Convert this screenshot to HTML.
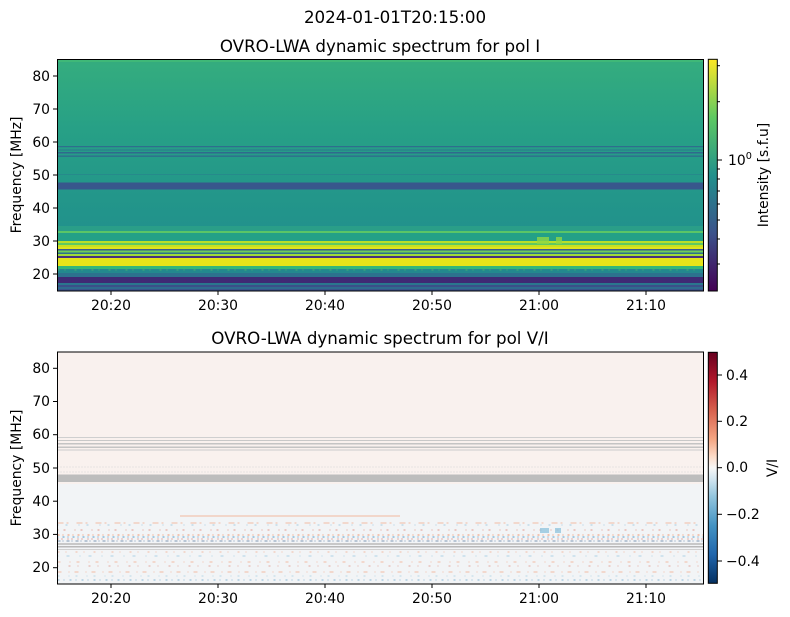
<!DOCTYPE html>
<html><head><meta charset="utf-8"><style>
html,body{margin:0;padding:0;background:#fff;}
svg{display:block;font-family:"DejaVu Sans","Liberation Sans",sans-serif;}
</style></head><body>
<svg width="790" height="617" viewBox="0 0 790 617" xmlns="http://www.w3.org/2000/svg">
<defs>
<linearGradient id="topbg" x1="0" y1="0" x2="0" y2="1">
<stop offset="0" stop-color="#35ad7e"/><stop offset="0.3" stop-color="#27a086"/><stop offset="0.75" stop-color="#21918c"/><stop offset="1" stop-color="#21918c"/>
</linearGradient>
<linearGradient id="viridis" x1="0" y1="1" x2="0" y2="0">
<stop offset="0" stop-color="#440154"/><stop offset="0.25" stop-color="#3b528b"/><stop offset="0.5" stop-color="#21918c"/><stop offset="0.75" stop-color="#5ec962"/><stop offset="1" stop-color="#fde725"/>
</linearGradient>
<linearGradient id="rdbu" x1="0" y1="1" x2="0" y2="0">
<stop offset="0" stop-color="#053061"/><stop offset="0.125" stop-color="#2166ac"/><stop offset="0.25" stop-color="#4393c3"/><stop offset="0.375" stop-color="#92c5de"/><stop offset="0.45" stop-color="#d1e5f0"/><stop offset="0.5" stop-color="#f7f7f7"/><stop offset="0.55" stop-color="#fddbc7"/><stop offset="0.625" stop-color="#f4a582"/><stop offset="0.75" stop-color="#d6604d"/><stop offset="0.875" stop-color="#b2182b"/><stop offset="1" stop-color="#67001f"/>
</linearGradient>
</defs>
<text x="395" y="23" font-size="16.7" text-anchor="middle">2024-01-01T20:15:00</text>

<!-- TOP PLOT -->
<text x="380" y="52" font-size="16.7" text-anchor="middle">OVRO-LWA dynamic spectrum for pol I</text>
<g>
<rect x="57.5" y="59.5" width="646" height="231.5" fill="url(#topbg)"/>
<rect x="57.5" y="60" width="646" height="2" fill="#3fb878"/>
<rect x="57.5" y="146" width="646" height="1.2" fill="#2f6d8e"/>
<rect x="57.5" y="149.5" width="646" height="1" fill="#2a788e"/>
<rect x="57.5" y="152" width="646" height="1.5" fill="#30698e"/>
<rect x="57.5" y="155.5" width="646" height="1.3" fill="#30698e"/>
<rect x="57.5" y="174" width="646" height="0.8" fill="#2a7a8e" opacity="0.6"/>
<rect x="57.5" y="182.5" width="646" height="7" fill="#38578c"/>
<rect x="57.5" y="226" width="646" height="5" fill="#2a9e88"/>
<rect x="57.5" y="231" width="646" height="2" fill="#5ac566"/>
<rect x="57.5" y="233" width="646" height="8" fill="#23a087"/>
<rect x="57.5" y="241" width="646" height="2" fill="#b8de29"/>
<rect x="57.5" y="243" width="646" height="2" fill="#5ec962"/>
<rect x="57.5" y="245" width="646" height="2" fill="#c8e020"/>
<rect x="57.5" y="247" width="646" height="2" fill="#e0e31c"/>
<rect x="57.5" y="249" width="646" height="1.5" fill="#3b5a8b"/>
<rect x="57.5" y="250.5" width="646" height="2" fill="#6ece58"/>
<rect x="57.5" y="252.5" width="646" height="1.5" fill="#2c718e"/>
<rect x="57.5" y="254" width="646" height="2" fill="#a0da39"/>
<rect x="57.5" y="256" width="646" height="2" fill="#46327e"/>
<rect x="57.5" y="258" width="646" height="8" fill="#e7e419"/>
<rect x="57.5" y="266" width="646" height="3" fill="#35b779"/>
<rect x="57.5" y="269" width="646" height="4" fill="#23898e"/>
<rect x="57.5" y="273" width="646" height="4" fill="#2c728e"/>
<rect x="57.5" y="277" width="646" height="6" fill="#3e2a74"/>
<rect x="57.5" y="283" width="646" height="2" fill="#2a768e"/>
<rect x="57.5" y="285" width="646" height="2" fill="#3b4f8a"/>
<rect x="57.5" y="287" width="646" height="2" fill="#2f6b8e"/>
<rect x="57.5" y="289" width="646" height="2" fill="#3b528b"/>
<rect x="537" y="237" width="12" height="7" fill="#8fd744" opacity="0.8"/>
<rect x="556" y="237" width="6" height="7" fill="#8fd744" opacity="0.8"/>
<line x1="57.5" y1="270" x2="703" y2="270" stroke="#5ec962" stroke-width="1" stroke-dasharray="2 5 1 9" opacity="0.6"/>
<line x1="57.5" y1="281" x2="703" y2="281" stroke="#482475" stroke-width="1" stroke-dasharray="3 4 1 6"/>
<rect x="57.5" y="59.5" width="646" height="231.5" fill="none" stroke="#000" stroke-width="1"/>
</g>
<g font-size="13.9" text-anchor="end">
<g stroke="#000"><line x1="53" y1="76" x2="57.5" y2="76"/><line x1="53" y1="109" x2="57.5" y2="109"/><line x1="53" y1="142" x2="57.5" y2="142"/><line x1="53" y1="175" x2="57.5" y2="175"/><line x1="53" y1="208" x2="57.5" y2="208"/><line x1="53" y1="241" x2="57.5" y2="241"/><line x1="53" y1="274" x2="57.5" y2="274"/></g>
<text x="50" y="81">80</text><text x="50" y="114">70</text><text x="50" y="147">60</text><text x="50" y="180">50</text><text x="50" y="213">40</text><text x="50" y="246">30</text><text x="50" y="279">20</text>
</g>
<text transform="translate(21,175) rotate(-90)" font-size="13.9" text-anchor="middle">Frequency [MHz]</text>
<g stroke="#000"><line x1="111" y1="291" x2="111" y2="295"/><line x1="218" y1="291" x2="218" y2="295"/><line x1="325" y1="291" x2="325" y2="295"/><line x1="432" y1="291" x2="432" y2="295"/><line x1="539" y1="291" x2="539" y2="295"/><line x1="646" y1="291" x2="646" y2="295"/></g>
<g font-size="13.9" text-anchor="middle"><text x="111" y="310">20:20</text><text x="218" y="310">20:30</text><text x="325" y="310">20:40</text><text x="432" y="310">20:50</text><text x="539" y="310">21:00</text><text x="646" y="310">21:10</text></g>
<rect x="708.3" y="59.3" width="9" height="231.7" fill="url(#viridis)" stroke="#000" stroke-width="1"/>
<g stroke="#000"><line x1="717.3" y1="160" x2="722" y2="160"/>
<line x1="717.3" y1="65.7" x2="720" y2="65.7"/><line x1="717.3" y1="101.7" x2="720" y2="101.7"/><line x1="717.3" y1="169" x2="720" y2="169"/><line x1="717.3" y1="179" x2="720" y2="179"/><line x1="717.3" y1="191" x2="720" y2="191"/><line x1="717.3" y1="204" x2="720" y2="204"/><line x1="717.3" y1="220" x2="720" y2="220"/><line x1="717.3" y1="239" x2="720" y2="239"/><line x1="717.3" y1="264" x2="720" y2="264"/></g>
<text x="728" y="165" font-size="13.9">10<tspan dy="-6" font-size="9.7">0</tspan></text>
<text transform="translate(768,175) rotate(-90)" font-size="13.9" text-anchor="middle">Intensity [s.f.u]</text>

<!-- BOTTOM PLOT -->
<text x="380" y="344" font-size="16.7" text-anchor="middle">OVRO-LWA dynamic spectrum for pol V/I</text>
<g>
<rect x="57.5" y="352" width="646" height="232" fill="#f9f1ee"/>
<rect x="57.5" y="484" width="646" height="100" fill="#f2f4f6"/>
<rect x="57.5" y="437" width="646" height="1" fill="#cfcfcf"/>
<rect x="57.5" y="440" width="646" height="1" fill="#c8c8c8"/>
<rect x="57.5" y="443" width="646" height="1.5" fill="#c4c4c4"/>
<rect x="57.5" y="446.5" width="646" height="1.5" fill="#c4c4c4"/>
<rect x="57.5" y="449.5" width="646" height="1" fill="#cccccc"/>
<line x1="57.5" y1="467" x2="703" y2="467" stroke="#ccc" stroke-width="0.8" stroke-dasharray="1 2"/>
<line x1="57.5" y1="472" x2="703" y2="472" stroke="#ccc" stroke-width="0.8" stroke-dasharray="1 2"/>
<rect x="57.5" y="474.5" width="646" height="7.5" fill="#bdbdbd"/>
<line x1="57.5" y1="523" x2="703" y2="523" stroke="#f4a582" stroke-width="1" stroke-dasharray="6 3 2 8" opacity="0.7"/>
<line x1="180" y1="516" x2="400" y2="516" stroke="#f4a582" stroke-width="1.5" opacity="0.5"/>
<line x1="57.5" y1="525" x2="703" y2="525" stroke="#92c5de" stroke-width="1" stroke-dasharray="1 7 2 11" opacity="0.8"/>
<line x1="57.5" y1="530" x2="703" y2="530" stroke="#d6604d" stroke-width="1" stroke-dasharray="1 5 2 9" opacity="0.6"/>
<line x1="57.5" y1="535" x2="703" y2="535" stroke="#f4a582" stroke-width="1.5" stroke-dasharray="2 3 1 4" opacity="0.8"/>
<line x1="57.5" y1="537" x2="703" y2="537" stroke="#4393c3" stroke-width="1.2" stroke-dasharray="1 4 2 3" opacity="0.7"/>
<line x1="57.5" y1="539" x2="703" y2="539" stroke="#d6604d" stroke-width="1.2" stroke-dasharray="1 3 1 5" opacity="0.7"/>
<line x1="57.5" y1="541" x2="703" y2="541" stroke="#92a8c0" stroke-width="1.5" stroke-dasharray="3 2 1 3" opacity="0.8"/>
<rect x="57.5" y="543" width="646" height="2" fill="#c8c8c8"/>
<rect x="57.5" y="546" width="646" height="1.5" fill="#b9b9b9"/>
<rect x="57.5" y="549" width="646" height="1" fill="#d0d0d0"/>
<line x1="57.5" y1="552" x2="703" y2="552" stroke="#f4a582" stroke-width="1" stroke-dasharray="2 6 1 9" opacity="0.7"/>
<line x1="57.5" y1="556" x2="703" y2="556" stroke="#92c5de" stroke-width="1" stroke-dasharray="1 8 3 10" opacity="0.7"/>
<line x1="57.5" y1="562" x2="703" y2="562" stroke="#f4a582" stroke-width="1" stroke-dasharray="3 9 1 6" opacity="0.7"/>
<line x1="57.5" y1="566" x2="703" y2="566" stroke="#d6604d" stroke-width="1" stroke-dasharray="1 10 2 7" opacity="0.5"/>
<line x1="57.5" y1="572" x2="703" y2="572" stroke="#f4a582" stroke-width="1" stroke-dasharray="4 7 1 5" opacity="0.7"/>
<line x1="57.5" y1="576" x2="703" y2="576" stroke="#92c5de" stroke-width="1" stroke-dasharray="2 9 1 6" opacity="0.6"/>
<line x1="57.5" y1="580" x2="703" y2="580" stroke="#4393c3" stroke-width="1" stroke-dasharray="2 4 1 5" opacity="0.6"/>
<rect x="540" y="528" width="9" height="5" fill="#92c5de" opacity="0.8"/>
<rect x="555" y="528" width="6" height="5" fill="#92c5de" opacity="0.8"/>
<rect x="57.5" y="352" width="646" height="232" fill="none" stroke="#000" stroke-width="1"/>
</g>
<g font-size="13.9" text-anchor="end">
<g stroke="#000"><line x1="53" y1="368.3" x2="57.5" y2="368.3"/><line x1="53" y1="401.5" x2="57.5" y2="401.5"/><line x1="53" y1="434.7" x2="57.5" y2="434.7"/><line x1="53" y1="468" x2="57.5" y2="468"/><line x1="53" y1="501.2" x2="57.5" y2="501.2"/><line x1="53" y1="534.4" x2="57.5" y2="534.4"/><line x1="53" y1="567.7" x2="57.5" y2="567.7"/></g>
<text x="50" y="373">80</text><text x="50" y="406">70</text><text x="50" y="439">60</text><text x="50" y="473">50</text><text x="50" y="506">40</text><text x="50" y="539">30</text><text x="50" y="572">20</text>
</g>
<text transform="translate(21,468) rotate(-90)" font-size="13.9" text-anchor="middle">Frequency [MHz]</text>
<g stroke="#000"><line x1="111" y1="584" x2="111" y2="588"/><line x1="218" y1="584" x2="218" y2="588"/><line x1="325" y1="584" x2="325" y2="588"/><line x1="432" y1="584" x2="432" y2="588"/><line x1="539" y1="584" x2="539" y2="588"/><line x1="646" y1="584" x2="646" y2="588"/></g>
<g font-size="13.9" text-anchor="middle"><text x="111" y="603">20:20</text><text x="218" y="603">20:30</text><text x="325" y="603">20:40</text><text x="432" y="603">20:50</text><text x="539" y="603">21:00</text><text x="646" y="603">21:10</text></g>
<rect x="708.3" y="352.3" width="9" height="231" fill="url(#rdbu)" stroke="#000" stroke-width="1"/>
<g stroke="#000"><line x1="717.3" y1="375" x2="722" y2="375"/><line x1="717.3" y1="421.3" x2="722" y2="421.3"/><line x1="717.3" y1="467.7" x2="722" y2="467.7"/><line x1="717.3" y1="514.3" x2="722" y2="514.3"/><line x1="717.3" y1="561" x2="722" y2="561"/></g>
<g font-size="13.9"><text x="726" y="380">0.4</text><text x="726" y="426">0.2</text><text x="726" y="472">0.0</text><text x="726" y="519">−0.2</text><text x="726" y="566">−0.4</text></g>
<text transform="translate(777,468) rotate(-90)" font-size="13.9" text-anchor="middle">V/I</text>
</svg>
</body></html>
